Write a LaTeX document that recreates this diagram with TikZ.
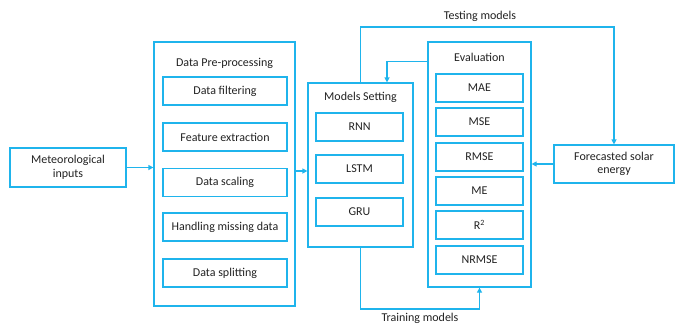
\documentclass[tikz,border=0pt]{standalone}
\usepackage{fontspec}
\setmainfont{Carlito}
\usetikzlibrary{arrows.meta}
\definecolor{lineblue}{HTML}{1FB4EC}
\definecolor{txt}{HTML}{222222}
\begin{document}
\begin{tikzpicture}[x=1pt,y=-1pt,
  box/.style={draw=lineblue,line width=1.2pt,inner sep=0pt,align=center,text=txt,font=\fontsize{12}{13.5}\selectfont},
  outer/.style={draw=lineblue,line width=1.2pt,inner sep=0pt},
  lbl/.style={text=txt,inner sep=0pt,font=\fontsize{12}{13.5}\selectfont},
  arr/.style={draw=lineblue,line width=1.2pt,-{Triangle[length=5pt,width=5pt]}}]
\useasboundingbox (0,0) rectangle (676,327);
% input
\node[box,minimum width=116pt,minimum height=39pt] (met) at (68,167.5) {Meteorological\\inputs};
% pre-processing
\node[outer,minimum width=141pt,minimum height=264pt] (pre) at (224.5,174) {};
\node[lbl] (pret) at (224.5,63) {Data Pre-processing};
\node[box,minimum width=124pt,minimum height=28pt] (p1) at (225,91) {Data filtering};
\node[box,minimum width=124pt,minimum height=28pt] (p2) at (225,137) {Feature extraction};
\node[box,minimum width=124pt,minimum height=28pt] (p3) at (225,182.5) {Data scaling};
\node[box,minimum width=124pt,minimum height=28pt] (p4) at (225,227) {Handling missing data};
\node[box,minimum width=124pt,minimum height=28pt] (p5) at (225,273) {Data splitting};
% models
\node[outer,minimum width=105pt,minimum height=164pt] (models) at (360.5,165) {};
\node[lbl] (modt) at (360.5,97) {Models Setting};
\node[box,minimum width=87pt,minimum height=28pt] (m1) at (359.5,127) {RNN};
\node[box,minimum width=87pt,minimum height=28pt] (m2) at (359.5,169) {LSTM};
\node[box,minimum width=87pt,minimum height=28pt] (m3) at (359.5,212) {GRU};
% evaluation
\node[outer,minimum width=103pt,minimum height=245pt] (eval) at (479.5,164.5) {};
\node[lbl] (evt) at (479.5,57) {Evaluation};
\node[box,minimum width=87pt,minimum height=28pt] (e1) at (479.5,88) {MAE};
\node[box,minimum width=87pt,minimum height=28pt] (e2) at (479.5,122) {MSE};
\node[box,minimum width=87pt,minimum height=28pt] (e3) at (479.5,157) {RMSE};
\node[box,minimum width=87pt,minimum height=28pt] (e4) at (479.5,191) {ME};
\node[box,minimum width=87pt,minimum height=28pt] (e5) at (479.5,225) {R\textsuperscript{2}};
\node[box,minimum width=87pt,minimum height=28pt] (e6) at (479.5,260) {NRMSE};
% forecast
\node[box,minimum width=120pt,minimum height=38pt] (fc) at (614,164) {Forecasted solar\\energy};
% connectors
\draw[arr] (met.east) -- (met.east -| pre.west);
\coordinate (pm) at ([yshift=3pt]pre.east);
\draw[arr] (pm) -- (pm -| models.west);
\draw[arr] ([yshift=-20pt]eval.north west) -| ([xshift=26.5pt]models.north);
\coordinate (ttop) at (480,27);
\draw[arr] (models.north) |- (ttop) -| (fc.north);
\node[lbl] (tl) at (480,16) {Testing models};
\coordinate (tbot) at (420,309);
\draw[arr] (models.south) |- (tbot) -| (eval.south);
\node[lbl] (trl) at (420,318) {Training models};
\draw[arr] (fc.west) -- (fc.west -| eval.east);
\end{tikzpicture}
\end{document}
